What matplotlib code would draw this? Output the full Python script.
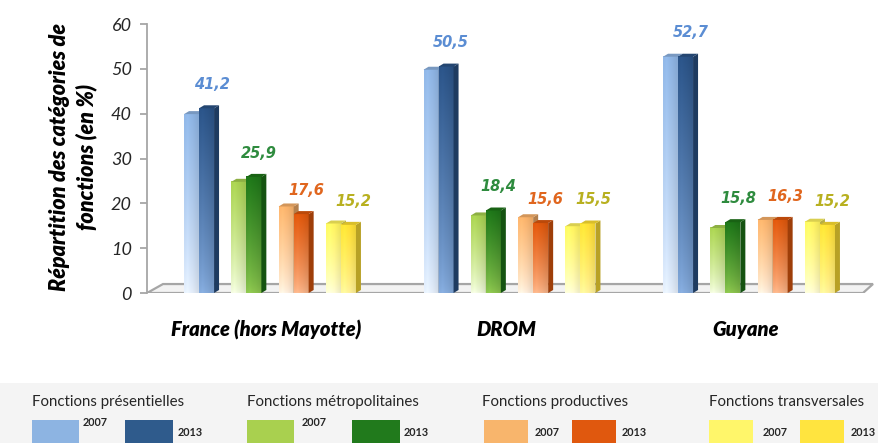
import numpy as np
import matplotlib
matplotlib.use("Agg")
import matplotlib.pyplot as plt
from matplotlib.patches import Polygon, Rectangle
from matplotlib.colors import to_rgb

plt.rcParams['font.family'] = ['Lato', 'DejaVu Sans']

# données
regions = ["France (hors Mayotte)", "DROM", "Guyane"]
fonctions = ["Fonctions présentielles", "Fonctions métropolitaines",
             "Fonctions productives", "Fonctions transversales"]
annees = ["2007", "2013"]
# valeurs par région : [présentielles, métropolitaines, productives, transversales]
val_2007 = [[39.9, 24.8, 19.3, 15.5],
            [49.8, 17.3, 16.9, 14.9],
            [52.7, 14.5, 16.3, 15.9]]
val_2013 = [[41.2, 25.9, 17.6, 15.2],
            [50.5, 18.4, 15.6, 15.5],
            [52.7, 15.8, 16.3, 15.2]]

# couleurs (haut, bas) pour 2007 / 2013
top_2007 = ["#8db3e2", "#a6ce4f", "#f8b16a", "#fff35e"]
bot_2007 = ["#e3ecf8", "#eef6dc", "#fdeede", "#fffcd6"]
top_2013 = ["#2a5285", "#1d7318", "#dc560c", "#ffdf33"]
bot_2013 = ["#83a8d8", "#8cc34e", "#f6b48a", "#fff19c"]
swatch_2007 = ["#8db4e2", "#a9d04f", "#f8b56c", "#fff66a"]
swatch_2013 = ["#2f5b8c", "#217a1c", "#e0580e", "#ffe43f"]
label_col = ["#5b8dd3", "#2e8b3e", "#e0661e", "#b8b020"]

W, H = 879, 443
fig = plt.figure(figsize=(W / 100, H / 100), dpi=100)

# axes placées en pixels
px_left, px_right, px_zero, px_top = 147, 875, 293, 24
ax = fig.add_axes([px_left / W, (H - px_zero) / H,
                   (px_right - px_left) / W, (px_zero - px_top) / H])
unit = 239.5          # pixels par groupe
g0 = 272.5            # centre du premier groupe
xmin = (px_left - g0) / unit
xmax = (px_right - g0) / unit
ppu = (px_zero - px_top) / 60.0   # pixels par unité y

bw = 15 / unit        # largeur de la face avant
dx = 5 / unit         # profondeur 3D
dy = 3 / ppu
pair_step = 47.3 / unit


def shade(c, f):
    r = np.array(to_rgb(c))
    return tuple(np.clip(r * f, 0, 1))


def bar3d(x, h, ctop, cbot, z):
    t = np.linspace(0, 1, 80) ** 0.75
    a = np.array(to_rgb(cbot))
    b = np.array(to_rgb(ctop))
    col = a[None, :] * (1 - t[:, None]) + b[None, :] * t[:, None]
    img = np.repeat(col[:, None, :], 6, axis=1)
    # léger reflet horizontal
    hl = np.array([1.03, 1.05, 1.02, 1.0, 0.97, 0.94])
    img = np.clip(img * hl[None, :, None], 0, 1)
    ax.imshow(img, extent=(x, x + bw, 0, h), origin='lower', aspect='auto',
              interpolation='bilinear', zorder=z)
    side = Polygon([(x + bw, 0), (x + bw + dx, dy), (x + bw + dx, h + dy), (x + bw, h)],
                   closed=True, facecolor=shade(ctop, 0.72), edgecolor='none', zorder=z)
    top = Polygon([(x, h), (x + dx, h + dy), (x + bw + dx, h + dy), (x + bw, h)],
                  closed=True, facecolor=shade(ctop, 0.85), edgecolor='none', zorder=z)
    ax.add_patch(side)
    ax.add_patch(top)


# sol
back = 2.0
x_front_r = (863 - g0) / unit
x_back_l = (163 - g0) / unit
x_back_r = (873 - g0) / unit
floor = Polygon([(xmin, 0), (x_front_r, 0), (x_back_r, back), (x_back_l, back)],
                closed=True, facecolor="#f3f3f3", edgecolor="#a6a6a6", lw=1.6, zorder=1)
ax.add_patch(floor)

z = 3
for g in range(len(regions)):
    for k in range(len(fonctions)):
        pc = g + (k - 1.5) * pair_step
        x07 = pc - (2 * bw + dx) / 2
        x13 = x07 + bw
        bar3d(x07, val_2007[g][k], top_2007[k], bot_2007[k], z)
        bar3d(x13, val_2013[g][k], top_2013[k], bot_2013[k], z + 1)
        z += 2
        ax.text(x13 + bw / 2 + 5 / unit, val_2013[g][k] + 5.3,
                f"{val_2013[g][k]:.1f}".replace(".", ","),
                ha='center', va='center', fontsize=10.5, fontweight='bold',
                fontstyle='italic', color=label_col[k], zorder=50,
                family='DejaVu Sans')
    ax.text(g - 6 / unit, -8.2, regions[g], ha='center', va='center', fontsize=14.5,
            fontweight='heavy', fontstyle='italic', color='black', clip_on=False)

ax.set_xlim(xmin, xmax)
ax.set_ylim(0, 60)
ax.set_yticks(np.arange(0, 61, 10))
ax.set_yticklabels([str(v) for v in range(0, 61, 10)], fontsize=13,
                   fontstyle='italic', color='#262626')
ax.set_xticks([])
for s in ['top', 'right', 'bottom']:
    ax.spines[s].set_visible(False)
ax.spines['left'].set_color('#a6a6a6')
ax.spines['left'].set_linewidth(1.3)
ax.tick_params(axis='y', length=5, color='#a6a6a6', width=1.3, pad=6)
ax.patch.set_alpha(0)

fig.text(73 / W, 1 - 157 / H, "Répartition des catégories de\nfonctions (en %)",
         rotation=90, ha='center', va='center', multialignment='center',
         fontsize=15.5, fontweight='heavy', fontstyle='italic', linespacing=1.3)

# légende en bas
fig.patches.append(Rectangle((0, 0), 1, (H - 383) / H, transform=fig.transFigure,
                             facecolor="#f4f4f4", edgecolor='none', zorder=0))
title_x = [32, 247, 482, 709]
sw1_x = [32, 247, 484, 709]
sw1_w = [47, 47, 44, 44]
t07_x = [83, 302, 535, 763]
sw2_x = [125, 352, 572, 800]
sw2_w = [48, 48, 44, 44]
t13_x = [178, 404, 622, 851]
y07 = [423, 423, 433, 433]
y13 = [432, 432, 433, 433]
for k in range(len(fonctions)):
    fig.text(title_x[k] / W, 1 - 402 / H, fonctions[k], ha='left', va='center',
             fontsize=10.8, color='#262626')
    fig.patches.append(Rectangle((sw1_x[k] / W, 0), sw1_w[k] / W, (H - 420) / H,
                                 transform=fig.transFigure,
                                 facecolor=swatch_2007[k], edgecolor='none'))
    fig.patches.append(Rectangle((sw2_x[k] / W, 0), sw2_w[k] / W, (H - 420) / H,
                                 transform=fig.transFigure,
                                 facecolor=swatch_2013[k], edgecolor='none'))
    fig.text(t07_x[k] / W, 1 - y07[k] / H, annees[0], ha='left', va='center',
             fontsize=7.8, fontweight='bold', color='#262626')
    fig.text(t13_x[k] / W, 1 - y13[k] / H, annees[1], ha='left', va='center',
             fontsize=7.8, fontweight='bold', color='#262626')

fig.savefig("out.png", dpi=100)
